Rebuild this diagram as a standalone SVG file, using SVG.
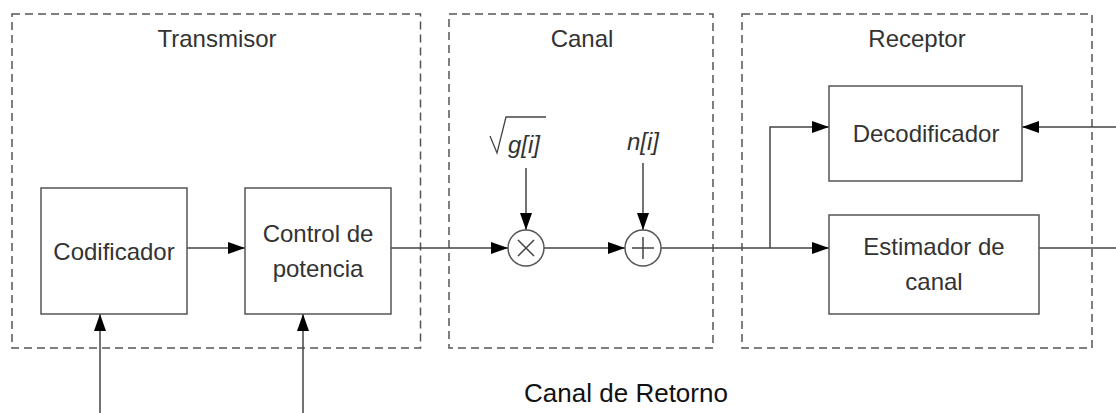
<svg xmlns="http://www.w3.org/2000/svg" width="1116" height="413" viewBox="0 0 1116 413">
<style>
.grp{fill:none;stroke:#555;stroke-width:1.5;stroke-dasharray:8,5}
.blk{fill:#fff;stroke:#555;stroke-width:1.5}
.ln{fill:none;stroke:#444;stroke-width:1.5}
.t{font-family:"Liberation Sans",Arial,sans-serif;font-size:24px;fill:#333;text-anchor:middle}
.ti{font-family:"Liberation Sans",Arial,sans-serif;font-size:24px;fill:#333;font-style:italic}
.sym{fill:#fff;stroke:#555;stroke-width:1.5}
</style>
<defs>
<marker id="ah" viewBox="0 0 17 12" refX="17" refY="6" markerWidth="17" markerHeight="12" markerUnits="userSpaceOnUse" orient="auto">
<path d="M0,0 L17,6 L0,12 z" fill="#000"/>
</marker>
</defs>
<rect width="1116" height="413" fill="#fff"/>
<g id="transmisor">
<rect class="grp" x="12" y="14" width="408.5" height="334"/>
<text class="t" x="217" y="47">Transmisor</text>
</g>
<g id="canal">
<rect class="grp" x="449" y="14" width="264" height="334"/>
<text class="t" x="582" y="47">Canal</text>
</g>
<g id="receptor">
<rect class="grp" x="742" y="14" width="350" height="334"/>
<text class="t" x="917" y="47">Receptor</text>
</g>
<g id="connectors">
<path class="ln" d="M187,248 H245" marker-end="url(#ah)"/>
<path class="ln" d="M391,248 H508" marker-end="url(#ah)"/>
<path class="ln" d="M544,248 H625" marker-end="url(#ah)"/>
<path class="ln" d="M661,248 H829" marker-end="url(#ah)"/>
<path class="ln" d="M770,248 V127 H829" marker-end="url(#ah)"/>
<path class="ln" d="M1116,127 H1022" marker-end="url(#ah)"/>
<path class="ln" d="M1039,248 H1116"/>
<path class="ln" d="M100,413 V314" marker-end="url(#ah)"/>
<path class="ln" d="M303,413 V314" marker-end="url(#ah)"/>
<path class="ln" d="M526,168 V230" marker-end="url(#ah)"/>
<path class="ln" d="M643,163 V230" marker-end="url(#ah)"/>
</g>
<g id="codificador">
<rect class="blk" x="41" y="188" width="146" height="126"/>
<text class="t" x="114" y="260">Codificador</text>
</g>
<g id="control-potencia">
<rect class="blk" x="245" y="188" width="146" height="126"/>
<text class="t" x="318" y="242">Control de</text>
<text class="t" x="318" y="277">potencia</text>
</g>
<g id="multiplicador">
<circle class="sym" cx="526" cy="248" r="18"/>
<path class="ln" d="M518,240 L534,256 M534,240 L518,256" stroke="#666"/>
<path d="M490,136 L497,153 L506,117 H546" fill="none" stroke="#444" stroke-width="1.3"/>
<text class="ti" x="508" y="153">g[i]</text>
</g>
<g id="sumador">
<circle class="sym" cx="643" cy="248" r="18"/>
<path class="ln" d="M643,237 V259 M632,248 H654" stroke="#666"/>
<text class="ti" x="643" y="150" text-anchor="middle">n[i]</text>
</g>
<g id="decodificador">
<rect class="blk" x="829" y="86" width="193" height="95"/>
<text class="t" x="926" y="142">Decodificador</text>
</g>
<g id="estimador">
<rect class="blk" x="829" y="215" width="210" height="99"/>
<text class="t" x="934" y="255">Estimador de</text>
<text class="t" x="934" y="290">canal</text>
</g>
<g id="retorno">
<text class="t" x="626" y="402" style="font-size:26px;fill:#111">Canal de Retorno</text>
</g>
</svg>
